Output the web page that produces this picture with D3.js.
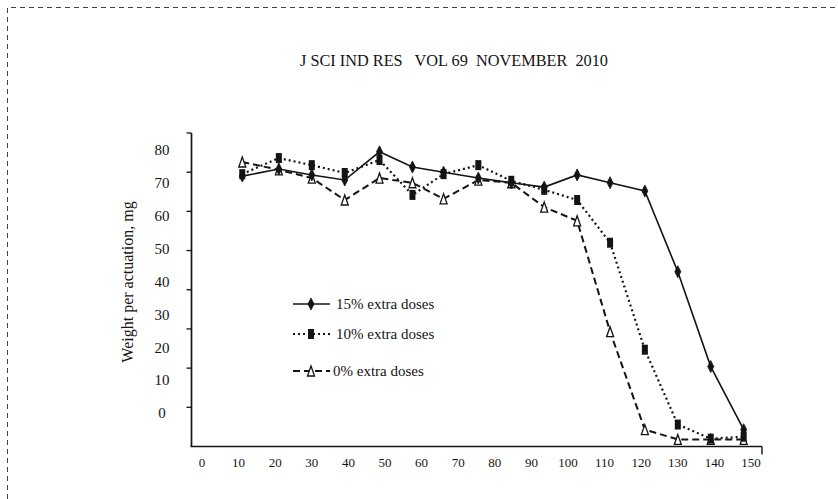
<!DOCTYPE html>
<html><head><meta charset="utf-8">
<script src="https://cdn.jsdelivr.net/npm/d3@7"></script>
<style>body{margin:0;background:#fff;overflow:hidden}</style>
</head><body><svg id="c" width="838" height="499"></svg>
<script>
// ---- data ----
const titleText = "J SCI IND RES   VOL 69  NOVEMBER  2010";
const yTitle = "Weight per actuation, mg";
const xValues = [11, 21, 30, 39, 48.5, 57.5, 66, 75.5, 84.5, 93.5, 102.5, 111.5, 121, 130, 139, 148];
const extra15 = [69.0, 70.8, 69.3, 68.0, 75.2, 71.3, 70.0, 68.5, 67.3, 66.2, 69.3, 67.3, 65.2, 44.6, 20.4, 4.3];
const extra10 = [69.5, 73.6, 71.8, 69.8, 73.1, 64.2, 69.5, 71.8, 67.8, 65.5, 62.9, 52.0, 24.7, 5.6, 2.0, 2.5];
const extra0  = [72.6, 70.6, 68.5, 62.9, 68.5, 67.3, 63.2, 68.0, 67.3, 61.1, 57.6, 29.3, 4.3, 1.8, 1.8, 1.8];
const seriesNames = ["15% extra doses", "10% extra doses", "0% extra doses"];
const xTickLabels = [0, 10, 20, 30, 40, 50, 60, 70, 80, 90, 100, 110, 120, 130, 140, 150];
const yTickLabels = [80, 70, 60, 50, 40, 30, 20, 10, 0];
const yTickMarks = [10, 20, 30, 40, 50, 60, 70, 80];

const svg = d3.select("#c");
const ink = "#141414";

// border (dashed, top and left)
svg.append("path").attr("d", "M7.5,499 L7.5,7.5 L838,7.5")
  .attr("fill", "none").attr("stroke", "#444").attr("stroke-width", 1)
  .attr("stroke-dasharray", "5,4");

// title
svg.append("text").attr("x", 300).attr("y", 66)
  .attr("font-family", "Liberation Serif, Times New Roman, serif")
  .attr("font-size", 17).attr("fill", ink)
  .style("white-space", "pre")
  .attr("textLength", 308).attr("lengthAdjust", "spacingAndGlyphs")
  .text(titleText);

// scales
const x = d3.scaleLinear().domain([0, 150]).range([202, 751]);
const y = d3.scaleLinear().domain([0, 80]).range([446.5, 133]);
const yLab = d3.scaleLinear().domain([0, 80]).range([413, 150]);

const axisX0 = 191.5, axisX1 = 762;

// axes lines
svg.append("line").attr("x1", axisX0).attr("x2", axisX0).attr("y1", y(80)).attr("y2", y(0))
  .attr("stroke", ink).attr("stroke-width", 1.7);
svg.append("line").attr("x1", axisX0 - 1).attr("x2", axisX1).attr("y1", y(0)).attr("y2", y(0))
  .attr("stroke", ink).attr("stroke-width", 1.7);
svg.append("line").attr("x1", axisX1).attr("x2", axisX1).attr("y1", y(0)).attr("y2", y(0) + 8)
  .attr("stroke", ink).attr("stroke-width", 1.4);

// y tick marks
svg.selectAll(".ytick").data(yTickMarks).join("line")
  .attr("x1", axisX0 - 5).attr("x2", axisX0)
  .attr("y1", d => y(d)).attr("y2", d => y(d))
  .attr("stroke", ink).attr("stroke-width", 1.3);

// y tick labels
svg.selectAll(".ylab").data(yTickLabels).join("text")
  .attr("x", 162).attr("y", d => yLab(d)).attr("dy", "0.35em")
  .attr("text-anchor", "middle")
  .attr("font-family", "Liberation Serif, Times New Roman, serif")
  .attr("font-size", 15).attr("fill", ink)
  .text(d => d);

// x tick labels
svg.selectAll(".xlab").data(xTickLabels).join("text")
  .attr("x", d => x(d)).attr("y", 467)
  .attr("text-anchor", "middle")
  .attr("font-family", "Liberation Serif, Times New Roman, serif")
  .attr("font-size", 13).attr("fill", ink)
  .text(d => d);

// y axis title
svg.append("text")
  .attr("transform", "translate(133,282) rotate(-90)")
  .attr("text-anchor", "middle")
  .attr("font-family", "Liberation Serif, Times New Roman, serif")
  .attr("font-size", 16).attr("fill", ink)
  .text(yTitle);

// series
const series = [
  {name: seriesNames[0], values: extra15, dash: null, width: 1.6, marker: "diamond"},
  {name: seriesNames[1], values: extra10, dash: "2,3", width: 2.2, marker: "square"},
  {name: seriesNames[2], values: extra0, dash: "7,4", width: 2, marker: "triangle"}
];

const line = d3.line().x(d => x(d[0])).y(d => y(d[1]));

function drawMarker(g, type, cx, cy) {
  if (type === "diamond") {
    g.append("path").attr("d", `M${cx},${cy-6} L${cx+3},${cy} L${cx},${cy+6} L${cx-3},${cy} Z`)
      .attr("fill", ink).attr("stroke", ink).attr("stroke-width", 0.8);
  } else if (type === "square") {
    g.append("rect").attr("x", cx - 3).attr("y", cy - 5).attr("width", 6).attr("height", 10)
      .attr("fill", ink);
  } else {
    g.append("path").attr("d", `M${cx},${cy-5} L${cx+3.5},${cy+5} L${cx-3.5},${cy+5} Z`)
      .attr("fill", "#fff").attr("stroke", ink).attr("stroke-width", 1.3);
  }
}

series.forEach(s => {
  const pts = xValues.map((xv, i) => [xv, s.values[i]]);
  svg.append("path").datum(pts).attr("d", line)
    .attr("fill", "none").attr("stroke", ink).attr("stroke-width", s.width)
    .attr("stroke-dasharray", s.dash);
});
[2, 1, 0].forEach(k => {
  const s = series[k];
  const g = svg.append("g");
  xValues.forEach((xv, i) => drawMarker(g, s.marker, x(xv), y(s.values[i])));
});

// legend
const legY = [304, 334, 371];
series.forEach((s, i) => {
  const g = svg.append("g");
  g.append("line").attr("x1", 293).attr("x2", 330).attr("y1", legY[i]).attr("y2", legY[i])
    .attr("stroke", ink).attr("stroke-width", s.width).attr("stroke-dasharray", s.dash);
  drawMarker(g, s.marker, 311, legY[i]);
  g.append("text").attr("x", i === 2 ? 333 : 336).attr("y", legY[i]).attr("dy", "0.35em")
    .attr("font-family", "Liberation Serif, Times New Roman, serif")
    .attr("font-size", 15).attr("fill", ink)
    .text(s.name);
});
</script>
</body></html>
